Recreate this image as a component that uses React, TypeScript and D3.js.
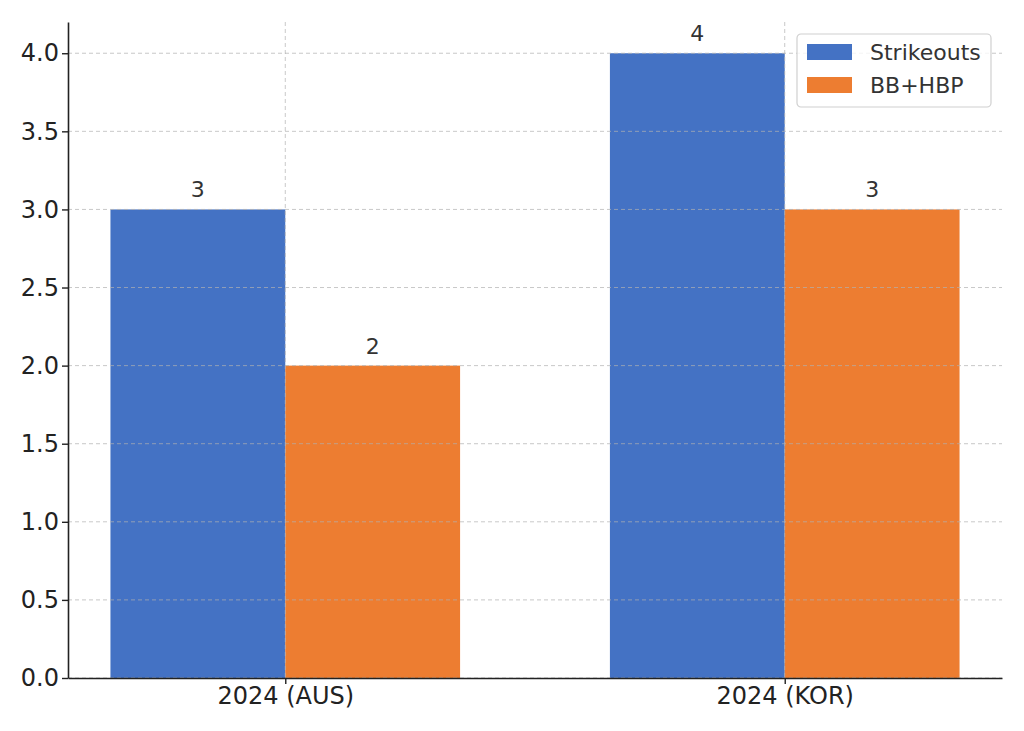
import React, { useEffect, useRef } from 'react';
import * as d3 from 'd3';

const categories = ['2024 (AUS)', '2024 (KOR)'];
const strikeouts = [3, 4];
const bbHbp = [2, 3];
const yTicks = [0, 0.5, 1.0, 1.5, 2.0, 2.5, 3.0, 3.5, 4.0];

const series = [
  { name: 'Strikeouts', values: strikeouts, color: '#4472C4', offset: -0.5 },
  { name: 'BB+HBP', values: bbHbp, color: '#ED7D31', offset: 0.5 }
];

const width = 1024;
const height = 731;
const margin = { top: 22, right: 22, bottom: 53, left: 68 };
const barWidth = 0.35;
const font = 'DejaVu Sans, sans-serif';

const App: React.FC = () => {
  const svgRef = useRef<SVGSVGElement>(null);

  useEffect(() => {
    if (!svgRef.current) return;
    d3.select(svgRef.current).selectAll('*').remove();

    const svg = d3.select(svgRef.current)
      .attr('width', width)
      .attr('height', height);

    const x = d3.scaleLinear()
      .domain([-0.435, 1.435])
      .range([margin.left, width - margin.right]);

    const y = d3.scaleLinear()
      .domain([0, 4.2])
      .range([height - margin.bottom, margin.top]);

    // Bars
    series.forEach(s => {
      svg.selectAll(null)
        .data(s.values)
        .enter()
        .append('rect')
        .attr('x', (d, i) => x(i + s.offset * barWidth - barWidth / 2))
        .attr('y', d => y(d))
        .attr('width', x(barWidth) - x(0))
        .attr('height', d => y(0) - y(d))
        .attr('fill', s.color);

      // Value labels
      svg.selectAll(null)
        .data(s.values)
        .enter()
        .append('text')
        .attr('x', (d, i) => x(i + s.offset * barWidth))
        .attr('y', d => y(d) - 12)
        .attr('text-anchor', 'middle')
        .style('font-family', font)
        .style('font-size', '22px')
        .style('fill', '#333')
        .text(d => String(d));
    });

    // Grid (drawn on top, light)
    const grid = svg.append('g')
      .style('stroke', '#b0b0b0')
      .style('stroke-opacity', 0.7)
      .style('stroke-dasharray', '4,3')
      .style('stroke-width', 1);

    grid.selectAll(null)
      .data(yTicks)
      .enter()
      .append('line')
      .attr('x1', margin.left)
      .attr('x2', width - margin.right)
      .attr('y1', d => y(d))
      .attr('y2', d => y(d));

    grid.selectAll(null)
      .data(categories)
      .enter()
      .append('line')
      .attr('x1', (d, i) => x(i))
      .attr('x2', (d, i) => x(i))
      .attr('y1', margin.top)
      .attr('y2', height - margin.bottom);

    // Y axis
    const yAxis = svg.append('g')
      .attr('transform', `translate(${margin.left},0)`)
      .call(d3.axisLeft(y).tickValues(yTicks).tickFormat(d3.format('.1f')).tickSize(6).tickSizeOuter(0).tickPadding(3));
    yAxis.select('.domain').attr('stroke', '#222').attr('stroke-width', 1.6);
    yAxis.selectAll('.tick line').attr('stroke', '#222').attr('stroke-width', 1.4);
    yAxis.selectAll('.tick text')
      .style('font-family', font)
      .style('font-size', '24px')
      .style('fill', '#222');

    // X axis
    const xAxis = svg.append('g')
      .attr('transform', `translate(0,${height - margin.bottom})`)
      .call(d3.axisBottom(x).tickValues([0, 1]).tickFormat((d, i) => categories[i]).tickSize(6).tickSizeOuter(0).tickPadding(3));
    xAxis.select('.domain').attr('stroke', '#222').attr('stroke-width', 1.6);
    xAxis.selectAll('.tick line').attr('stroke', '#222').attr('stroke-width', 1.4);
    xAxis.selectAll('.tick text')
      .style('font-family', font)
      .style('font-size', '24px')
      .style('fill', '#222');

    // Legend
    const legend = svg.append('g')
      .attr('transform', `translate(797,34)`);

    legend.append('rect')
      .attr('width', 194)
      .attr('height', 73)
      .attr('rx', 4)
      .attr('fill', 'white')
      .attr('fill-opacity', 0.8)
      .attr('stroke', '#d0d0d0')
      .attr('stroke-width', 1.2);

    series.forEach((s, i) => {
      legend.append('rect')
        .attr('x', 10)
        .attr('y', 10 + i * 33)
        .attr('width', 45)
        .attr('height', 16)
        .attr('fill', s.color);

      legend.append('text')
        .attr('x', 73)
        .attr('y', 26 + i * 33)
        .style('font-family', font)
        .style('font-size', '22px')
        .style('fill', '#333')
        .text(s.name);
    });
  }, []);

  return (
    <svg ref={svgRef} style={{ position: 'absolute', left: 0, top: 0, background: 'white' }}></svg>
  );
};

export default App;
